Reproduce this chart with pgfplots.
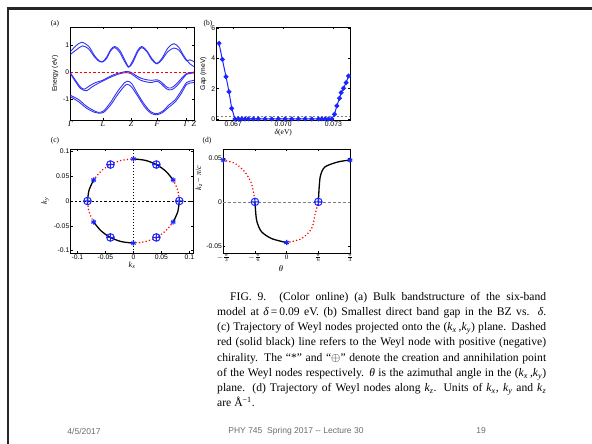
\documentclass[border=0pt]{standalone}
\usepackage{fontspec}
\setmainfont{Liberation Serif}
\setsansfont{Liberation Sans}
\usepackage{pgfplots}
\pgfplotsset{compat=1.18}
\definecolor{bandblue}{rgb}{0.2,0.2,0.95}
\definecolor{mblue}{rgb}{0.1,0.15,1}
\definecolor{footgray}{gray}{0.42}
\newcommand\kk[1]{\textit{k}\textsubscript{\textit{#1}}}
\setlength\parindent{0pt}

\pgfplotsset{
  panel/.style={
    scale only axis,
    axis line style={line width=0.8pt},
    tick align=inside, tick pos=both,
    major tick length=2pt,
    every tick/.style={black, line width=0.4pt},
    tick label style={font=\sffamily\fontsize{6.8}{7.5}\selectfont, inner sep=1.2pt},
    ylabel style={font=\sffamily\fontsize{6.8}{7.5}\selectfont},
    scaled ticks=false,
    clip=false,
  },
  band/.style={bandblue, line width=0.9pt, smooth, no marks},
  reddot/.style={red, line width=1.7pt, line cap=round, dash pattern=on 0pt off 3.4pt, smooth},
  blk/.style={black, line width=1.3pt, smooth},
  star/.style={only marks, mblue, mark=asterisk, mark size=2.6pt, line width=1.2pt},
  opl/.style={only marks, mblue, mark=oplus, mark size=3.8pt, line width=1pt},
}

\begin{document}
\begin{tikzpicture}
\path[use as bounding box] (0,0) rectangle (592pt,444pt);
\draw[line width=2.5pt, black!85] (8pt,0pt) -- (8pt,435.5pt) -- (592pt,435.5pt);

% (a) bands
\begin{axis}[panel, at={(70.5pt,324pt)}, anchor=south west, width=123.5pt, height=93pt,
  xmin=0, xmax=123, ymin=-1.75, ymax=1.65,
  xtick={0,32.3,60.3,86.3,115.3,123},
  xticklabels={\textit{Γ},\textit{L},\textit{Z},\textit{F},\textit{Γ},\textit{Z}},
  xticklabel style={font=\rmfamily\fontsize{8}{9}\selectfont},
  ytick={-1,0,1}, yticklabels={-1,0,1},
  ylabel={Energy (eV)},
]
\addplot[band] coordinates {(0,0.75) (5,0.95) (11,1.09) (18,0.95) (24,0.6) (29,0.4) (32,0.38) (36,0.55) (40,0.82) (44,0.94) (49,0.8) (54,0.45) (58,0.2) (62,0.42) (67,0.8) (71,0.94) (76,0.78) (81,0.5) (86,0.32) (91,0.5) (97,0.88) (103,1.04) (108,0.9) (112,0.65) (115.5,0.45) (119,0.3) (123,0.2)};
\addplot[band] coordinates {(0,0.65) (6,0.82) (12,0.96) (18,0.85) (24,0.55) (29,0.38) (32,0.37) (36,0.5) (40,0.78) (44,0.9) (49,0.72) (54,0.38) (58,0.18) (62,0.35) (67,0.74) (71,0.9) (76,0.75) (81,0.45) (86,0.3) (91,0.45) (97,0.75) (103,0.88) (108,0.8) (112,0.6) (115.5,0.42) (119,0.45) (123,0.38)};
\addplot[band] coordinates {(0,-0.03) (5,-0.3) (10,-0.55) (14,-0.62) (19,-0.5) (25,-0.38) (32,-0.3) (38,-0.18) (44,-0.08) (50,-0.02) (55,0.02) (60,0) (65,-0.12) (70,-0.22) (76,-0.28) (81,-0.3) (86,-0.28) (90,-0.35) (96,-0.55) (100,-0.58) (105,-0.45) (110,-0.25) (115.5,-0.05) (119,-0.02) (123,0)};
\addplot[band] coordinates {(0,-0.06) (5,-0.35) (10,-0.6) (16,-0.68) (21,-0.55) (27,-0.42) (32,-0.33) (38,-0.22) (44,-0.12) (50,-0.05) (55,-0.02) (60,-0.05) (65,-0.18) (70,-0.3) (76,-0.36) (81,-0.38) (86,-0.33) (90,-0.42) (96,-0.62) (101,-0.64) (106,-0.5) (111,-0.28) (115.5,-0.08) (119,-0.05) (123,-0.03)};
\addplot[band] coordinates {(0,-0.85) (8,-1.0) (16,-1.25) (24,-1.42) (28,-1.47) (33,-1.42) (40,-1.1) (47,-0.7) (54,-0.38) (57,-0.33) (61,-0.42) (67,-0.8) (74,-1.2) (80,-1.45) (86,-1.52) (92,-1.42) (98,-1.2) (104,-1.02) (110,-0.7) (115.5,-0.38) (119,-0.33) (123,-0.3)};
\addplot[band] coordinates {(0,-0.9) (8,-1.08) (16,-1.32) (24,-1.47) (28,-1.5) (33,-1.47) (40,-1.2) (47,-0.82) (54,-0.5) (57,-0.45) (61,-0.55) (67,-0.88) (74,-1.28) (80,-1.5) (86,-1.56) (92,-1.47) (98,-1.28) (104,-1.1) (110,-0.8) (115.5,-0.45) (119,-0.4) (123,-0.38)};
\addplot[red, line width=1pt, dash pattern=on 2.5pt off 2pt, sharp plot, no marks] coordinates {(0,0) (123,0)};
\end{axis}

% (b) gap
\begin{axis}[panel, at={(216.5pt,324pt)}, anchor=south west, width=133.5pt, height=93pt,
  xmin=0.066, xmax=0.074, ymin=-0.07, ymax=6.07,
  xtick={0.067,0.070,0.073}, xticklabels={0.067,0.070,0.073},
  ytick={0,2,4,6}, yticklabels={0,2,4,6},
  ylabel={Gap (meV)}, xlabel={\textit{δ}(eV)},
  xlabel style={font=\rmfamily\fontsize{7.5}{8}\selectfont, yshift=2pt},
]
\addplot[gray, line width=0.5pt, dash pattern=on 2pt off 2pt] coordinates {(0.066,0.15) (0.074,0.15)};
\addplot[mblue, line width=1pt, mark=*, mark size=1.9pt] coordinates {
(0.06615,4.99) (0.06635,3.93) (0.06657,2.79) (0.06675,1.80) (0.06691,0.70) (0.06711,0)
(0.06731,0) (0.06751,0) (0.06771,0) (0.06791,0) (0.06821,0) (0.06851,0) (0.06891,0)
(0.06931,0) (0.06971,0) (0.07011,0) (0.07051,0) (0.07091,0) (0.07131,0) (0.07171,0)
(0.07211,0) (0.07231,0) (0.07251,0) (0.07271,0) (0.07291,0)
(0.07307,0.31) (0.07321,0.86) (0.07337,1.36) (0.07347,1.74) (0.07361,2.02) (0.07377,2.40) (0.07391,2.83)};
\end{axis}

% (c) kx-ky trajectory
\begin{axis}[panel, at={(70.7pt,191pt)}, anchor=south west, width=122.6pt, height=104pt,
  xmin=-0.112, xmax=0.107, ymin=-0.105, ymax=0.105,
  xtick={-0.1,-0.05,0,0.05,0.1}, xticklabels={-0.1,-0.05,0,0.05,0.1},
  ytick={-0.1,-0.05,0,0.05,0.1}, yticklabels={-0.1,-0.05,0,0.05,0.1},
  xlabel={\kk{x}}, ylabel={\kk{y}},
  xlabel style={font=\rmfamily\fontsize{8}{9}\selectfont, yshift=2pt},
  ylabel style={font=\rmfamily\fontsize{8}{9}\selectfont},
]
\addplot[black, line width=0.7pt, dash pattern=on 2.2pt off 2pt] coordinates {(-0.112,0) (0.107,0)};
\addplot[black, line width=0.7pt, dash pattern=on 1.2pt off 1.8pt] coordinates {(0,-0.105) (0,0.105)};
\addplot[blk] coordinates {(0,0.085) (0.0212,0.0821) (0.041,0.0736) (0.058,0.060) (0.071,0.0425)};
\addplot[reddot] coordinates {(0.071,0.0425) (0.0792,0.022) (0.082,0)};
\addplot[blk] coordinates {(0.082,0) (0.0792,-0.022) (0.071,-0.0425)};
\addplot[reddot] coordinates {(0.071,-0.0425) (0.058,-0.060) (0.041,-0.0736) (0.0212,-0.0821) (0,-0.085)};
\addplot[blk] coordinates {(0,-0.085) (-0.0212,-0.0821) (-0.041,-0.0736) (-0.058,-0.060) (-0.071,-0.0425)};
\addplot[reddot] coordinates {(-0.071,-0.0425) (-0.0792,-0.022) (-0.082,0)};
\addplot[blk] coordinates {(-0.082,0) (-0.0792,0.022) (-0.071,0.0425)};
\addplot[reddot] coordinates {(-0.071,0.0425) (-0.058,0.060) (-0.041,0.0736) (-0.0212,0.0821) (0,0.085)};
\addplot[star] coordinates {(0,0.085) (0.071,0.0425) (0.071,-0.0425) (0,-0.085) (-0.071,-0.0425) (-0.071,0.0425)};
\addplot[opl] coordinates {(0.041,0.0736) (0.082,0) (0.041,-0.0736) (-0.041,-0.0736) (-0.082,0) (-0.041,0.0736)};
\end{axis}

% (d) kz trajectory
\begin{axis}[panel, at={(223.3pt,191pt)}, anchor=south west, width=126.7pt, height=104pt,
  xmin=-2, xmax=2, ymin=-0.058, ymax=0.060,
  xtick={-2,-1,0,1,2},
  xticklabels={$-\frac{\pi}{3}$,$-\frac{\pi}{6}$,0,$\frac{\pi}{6}$,$\frac{\pi}{3}$},
  xticklabel style={font=\rmfamily\fontsize{7}{8}\selectfont},
  ytick={-0.05,0,0.05}, yticklabels={-0.05,0,0.05},
  xlabel={\textit{θ}}, ylabel={\kk{z} − \textit{π}/\textit{c}},
  xlabel style={font=\rmfamily\fontsize{8.5}{9}\selectfont, at={(axis description cs:0.455,0)}, anchor=north, yshift=-9pt},
  ylabel style={font=\rmfamily\fontsize{8}{9}\selectfont, at={(axis description cs:-0.14,0.72)}},
]
\addplot[gray, line width=0.5pt, dash pattern=on 2.5pt off 2.5pt] coordinates {(-2,0) (2,0)};
\addplot[reddot] coordinates {(-2,0.0474) (-1.63,0.0436) (-1.32,0.034) (-1.13,0.0227) (-1.05,0.0114) (-1,0)};
\addplot[blk] coordinates {(-1,0) (-0.97,-0.015) (-0.93,-0.0235) (-0.79,-0.034) (-0.47,-0.0417) (0,-0.0462)};
\addplot[reddot] coordinates {(0,-0.0462) (0.47,-0.0417) (0.79,-0.0302) (0.89,-0.0151) (1,0)};
\addplot[blk] coordinates {(1,0) (1.03,0.018) (1.07,0.030) (1.21,0.0397) (1.63,0.0454) (2,0.0474)};
\addplot[star] coordinates {(-2,0.0474) (0,-0.0462) (2,0.0474)};
\addplot[opl] coordinates {(-1,0) (1,0)};
\end{axis}

% panel labels
\node[font=\rmfamily\fontsize{7.5}{8}\selectfont] at (55pt,420pt) {(a)};
\node[font=\rmfamily\fontsize{7.5}{8}\selectfont] at (208pt,420pt) {(b)};
\node[font=\rmfamily\fontsize{7.5}{8}\selectfont] at (55pt,303pt) {(c)};
\node[font=\rmfamily\fontsize{7.5}{8}\selectfont] at (207pt,303pt) {(d)};

% caption
\node[anchor=north west, inner sep=0pt, text width=329pt, align=justify,
  font=\rmfamily\fontsize{11.6}{15.2}\selectfont] at (217pt,152pt) {%
\hspace*{13pt}FIG. 9. (Color online) (a) Bulk bandstructure of the six-band\linebreak
model at \textit{δ}\,=\,0.09 eV. (b) Smallest direct band gap in the BZ vs. \textit{δ}.\linebreak
(c) Trajectory of Weyl nodes projected onto the (\kk{x}\,,\kk{y}) plane. Dashed\linebreak
red (solid black) line refers to the Weyl node with positive (negative)\linebreak
chirality. The “*” and “$\oplus$” denote the creation and annihilation point\linebreak
of the Weyl nodes respectively. \textit{θ} is the azimuthal angle in the (\kk{x}\,,\kk{y})\linebreak
plane. (d) Trajectory of Weyl nodes along \kk{z}. Units of \kk{x}, \kk{y} and \kk{z}\linebreak
are Å\textsuperscript{−1}.};

% footer
\node[font=\sffamily\fontsize{8.5}{10}\selectfont, text=footgray] at (84pt,13pt) {4/5/2017};
\node[font=\sffamily\fontsize{8.5}{10}\selectfont, text=footgray] at (296pt,13pt) {PHY 745\ \ Spring 2017 -{}- Lecture 30};
\node[font=\sffamily\fontsize{8.5}{10}\selectfont, text=footgray] at (481pt,13pt) {19};
\end{tikzpicture}
\end{document}
